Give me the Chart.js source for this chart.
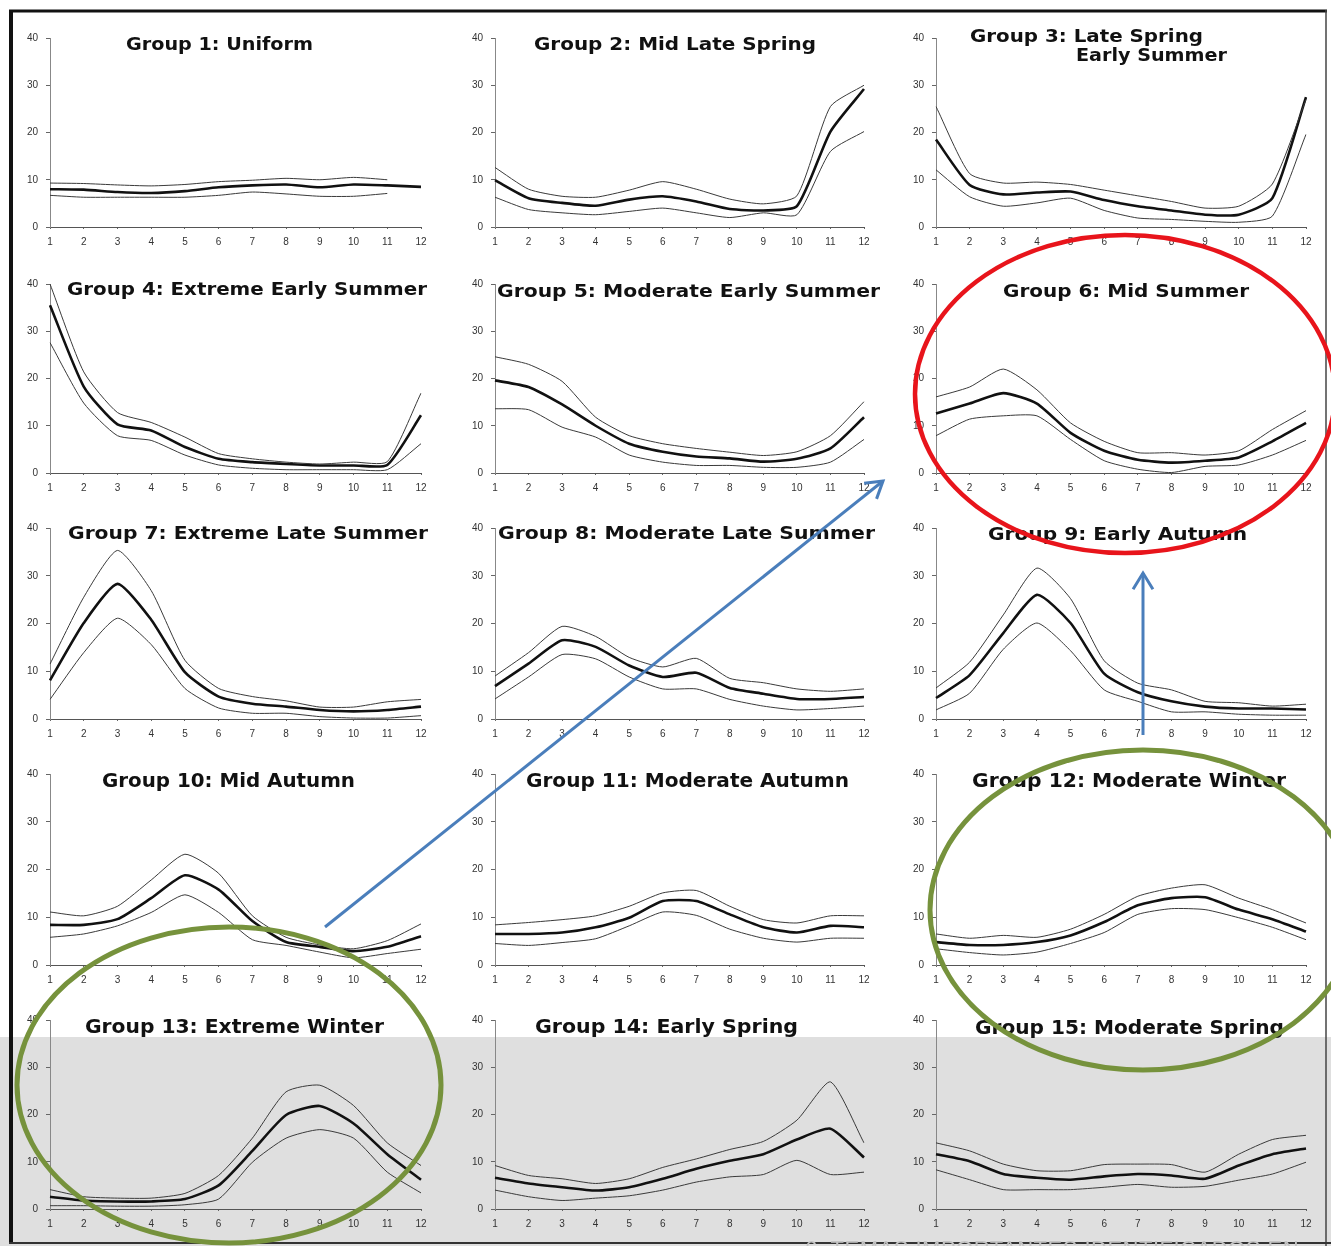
<!DOCTYPE html>
<html>
<head>
<meta charset="utf-8">
<script src="https://cdn.jsdelivr.net/npm/chart.js@4.4.1/dist/chart.umd.min.js"></script>
<style>
html, body { margin: 0; padding: 0; background: #fff; }
#page { position: relative; width: 1331px; height: 1246px; overflow: hidden; background: #fff; }
#band { position: absolute; left: 0; top: 1037px; width: 1331px; height: 209px; background: #dfdfdf; }
canvas.panel { position: absolute; }
#overlay { position: absolute; left: 0; top: 0; }
</style>
</head>
<body>
<div id="page">
  <div id="band"></div>
  <svg id="overlay" width="1331" height="1246" xmlns="http://www.w3.org/2000/svg"></svg>
</div>
<script>
const months = ['1', '2', '3', '4', '5', '6', '7', '8', '9', '10', '11', '12'];
const yTicks = [0, 10, 20, 30, 40];

const titles = [
    ['Group 1: Uniform'],
    ['Group 2: Mid Late Spring'],
    ['Group 3: Late Spring', 'Early Summer'],
    ['Group 4: Extreme Early Summer'],
    ['Group 5: Moderate Early Summer'],
    ['Group 6: Mid Summer'],
    ['Group 7: Extreme Late Summer'],
    ['Group 8: Moderate Late Summer'],
    ['Group 9: Early Autumn'],
    ['Group 10: Mid Autumn'],
    ['Group 11: Moderate Autumn'],
    ['Group 12: Moderate Winter'],
    ['Group 13: Extreme Winter'],
    ['Group 14: Early Spring'],
    ['Group 15: Moderate Spring']
];

// mean line and the two thin band lines, per group (% of cases per month)
const g1Mean = [8.0, 7.9, 7.4, 7.2, 7.6, 8.4, 8.8, 9.0, 8.4, 9.0, 8.8, 8.5];
const g1Hi = [9.3, 9.2, 8.9, 8.7, 9.0, 9.6, 9.9, 10.3, 10.0, 10.5, 10.0, null];
const g1Lo = [6.7, 6.3, 6.3, 6.3, 6.3, 6.7, 7.4, 7.0, 6.5, 6.5, 7.1, null];

const g2Mean = [9.9, 6.1, 5.1, 4.5, 5.8, 6.5, 5.4, 3.8, 3.5, 4.4, 20.2, 29.2];
const g2Hi = [12.6, 8.0, 6.5, 6.3, 7.8, 9.6, 8.0, 5.9, 4.9, 6.6, 25.5, 30.0];
const g2Lo = [6.3, 3.7, 3.0, 2.6, 3.3, 4.0, 3.0, 2.0, 3.0, 2.6, 16.0, 20.2];

const g3Mean = [18.5, 8.9, 6.9, 7.3, 7.5, 5.7, 4.4, 3.5, 2.6, 2.6, 6.1, 27.5];
const g3Hi = [25.5, 11.3, 9.3, 9.5, 9.0, 7.8, 6.6, 5.4, 4.0, 4.4, 9.1, 27.0];
const g3Lo = [12.1, 6.4, 4.4, 5.1, 6.1, 3.5, 1.9, 1.6, 1.2, 1.0, 2.3, 19.6];

const g4Mean = [35.5, 18.3, 10.3, 9.0, 5.5, 3.0, 2.3, 1.9, 1.6, 1.6, 1.7, 12.2];
const g4Hi = [40.0, 21.4, 12.8, 10.7, 7.6, 4.1, 3.0, 2.3, 1.9, 2.3, 2.4, 16.9];
const g4Lo = [27.6, 14.8, 7.9, 6.9, 3.8, 1.7, 1.0, 0.7, 0.7, 0.7, 0.7, 6.2];

const g5Mean = [19.6, 18.2, 14.5, 10.0, 6.2, 4.5, 3.5, 3.1, 2.4, 3.0, 5.2, 11.8];
const g5Hi = [24.6, 23.0, 19.4, 11.8, 7.9, 6.2, 5.2, 4.4, 3.7, 4.5, 7.9, 15.1];
const g5Lo = [13.6, 13.4, 9.7, 7.6, 3.8, 2.3, 1.6, 1.6, 1.2, 1.2, 2.3, 7.1];

const g6Mean = [12.6, 14.7, 16.9, 14.7, 8.5, 4.7, 2.8, 2.2, 2.6, 3.3, 6.7, 10.6];
const g6Hi = [16.1, 18.2, 22.0, 17.6, 10.6, 6.7, 4.3, 4.3, 3.8, 4.7, 9.2, 13.2];
const g6Lo = [7.9, 11.4, 12.1, 12.1, 7.1, 2.6, 0.8, 0.1, 1.4, 1.7, 3.8, 6.9];

const g7Mean = [8.1, 20.1, 28.3, 20.8, 9.8, 4.7, 3.2, 2.6, 1.9, 1.6, 1.9, 2.6];
const g7Hi = [11.5, 25.5, 35.3, 26.9, 12.3, 6.4, 4.7, 3.8, 2.5, 2.5, 3.6, 4.1];
const g7Lo = [4.1, 13.9, 21.1, 15.6, 6.4, 2.3, 1.2, 1.2, 0.5, 0.2, 0.2, 0.7];

const g8Mean = [6.9, 11.6, 16.5, 15.1, 11.2, 8.8, 9.7, 6.5, 5.3, 4.2, 4.2, 4.6];
const g8Hi = [9.0, 13.9, 19.4, 17.3, 12.9, 10.9, 12.7, 8.5, 7.6, 6.3, 5.8, 6.3];
const g8Lo = [4.2, 8.8, 13.5, 12.6, 8.8, 6.3, 6.3, 4.1, 2.7, 1.9, 2.2, 2.7];

const g9Mean = [4.4, 9.2, 18.0, 26.0, 20.1, 9.5, 5.6, 3.7, 2.6, 2.2, 2.2, 2.0];
const g9Hi = [6.5, 11.9, 21.8, 31.6, 25.2, 12.2, 7.5, 6.1, 3.7, 3.4, 2.7, 3.1];
const g9Lo = [1.9, 5.4, 14.6, 20.1, 14.3, 6.1, 3.7, 1.5, 1.5, 1.0, 0.8, 0.8];

const g10Mean = [8.4, 8.4, 9.6, 14.0, 18.8, 15.8, 9.2, 4.8, 3.8, 2.9, 3.8, 6.0];
const g10Hi = [11.1, 10.3, 12.3, 17.8, 23.2, 19.2, 10.3, 5.8, 4.2, 3.4, 5.1, 8.6];
const g10Lo = [5.8, 6.5, 8.2, 11.0, 14.7, 11.0, 5.3, 4.1, 2.7, 1.5, 2.4, 3.3];

const g11Mean = [6.5, 6.5, 6.8, 7.9, 9.9, 13.4, 13.4, 10.6, 7.9, 6.8, 8.2, 7.9];
const g11Hi = [8.4, 8.9, 9.5, 10.3, 12.3, 15.1, 15.6, 12.3, 9.5, 8.8, 10.3, 10.3];
const g11Lo = [4.5, 4.1, 4.7, 5.5, 8.2, 11.1, 10.4, 7.5, 5.6, 4.8, 5.6, 5.6];

const g12Mean = [4.8, 4.2, 4.2, 4.8, 6.2, 9.0, 12.5, 14.0, 14.2, 11.6, 9.6, 7.0];
const g12Hi = [6.5, 5.6, 6.2, 5.8, 7.5, 10.6, 14.4, 16.1, 16.8, 14.0, 11.6, 8.8];
const g12Lo = [3.4, 2.6, 2.1, 2.7, 4.5, 6.8, 10.6, 11.8, 11.6, 9.9, 7.9, 5.3];

const g13Mean = [2.6, 1.8, 1.6, 1.6, 2.1, 5.0, 12.3, 19.9, 21.8, 18.1, 11.6, 6.2];
const g13Hi = [4.1, 2.6, 2.3, 2.3, 3.3, 7.1, 15.0, 24.8, 26.2, 21.9, 14.0, 9.2];
const g13Lo = [0.7, 0.7, 0.6, 0.6, 0.9, 2.1, 9.9, 15.0, 16.8, 15.0, 7.8, 3.4];

const g14Mean = [6.6, 5.4, 4.6, 3.9, 4.6, 6.4, 8.5, 10.2, 11.6, 14.7, 17.0, 10.9];
const g14Hi = [9.2, 7.1, 6.4, 5.4, 6.4, 8.8, 10.6, 12.6, 14.3, 18.8, 26.9, 14.0];
const g14Lo = [4.0, 2.6, 1.8, 2.3, 2.8, 4.0, 5.7, 6.8, 7.3, 10.3, 7.3, 7.8];

const g15Mean = [11.6, 10.1, 7.4, 6.6, 6.2, 6.9, 7.4, 7.1, 6.4, 9.2, 11.6, 12.8];
const g15Hi = [14.0, 12.3, 9.5, 8.1, 8.1, 9.4, 9.5, 9.4, 7.8, 11.6, 14.7, 15.6];
const g15Lo = [8.3, 6.2, 4.1, 4.1, 4.1, 4.6, 5.2, 4.6, 4.8, 6.1, 7.4, 9.9];

const means = [g1Mean, g2Mean, g3Mean, g4Mean, g5Mean, g6Mean, g7Mean, g8Mean, g9Mean, g10Mean, g11Mean, g12Mean, g13Mean, g14Mean, g15Mean];
const highs = [g1Hi, g2Hi, g3Hi, g4Hi, g5Hi, g6Hi, g7Hi, g8Hi, g9Hi, g10Hi, g11Hi, g12Hi, g13Hi, g14Hi, g15Hi];
const lows = [g1Lo, g2Lo, g3Lo, g4Lo, g5Lo, g6Lo, g7Lo, g8Lo, g9Lo, g10Lo, g11Lo, g12Lo, g13Lo, g14Lo, g15Lo];

// page layout (pixels): month 1 / month 12 per column, value 40 / value 0 per row
const cols = [[50, 421], [495, 864], [936, 1306]];
const rows = [[34, 227], [280, 473], [524, 719], [770, 965], [1016, 1209]];
// title: left x, baseline, width
const titleSpots = [
    [[126, 50, 187]], [[534, 50, 282]], [[970, 42, 233], [1076, 61, 151]],
    [[67, 295, 360]], [[497, 297, 383]], [[1003, 297, 246]],
    [[68, 539, 360]], [[498, 539, 377]], [[988, 540, 259]],
    [[102, 787, 253]], [[526, 787, 323]], [[972, 787, 314]],
    [[85, 1033, 299]], [[535, 1033, 263]], [[975, 1034, 309]]
];

const YW = 45, PT = 10, PR = 14, XH = 26;
const page = document.getElementById('page');
const svg = document.getElementById('overlay');
const NS = 'http://www.w3.org/2000/svg';

function svgEl(tag, attrs, text) {
    const el = document.createElementNS(NS, tag);
    for (const k in attrs) el.setAttribute(k, attrs[k]);
    if (text) el.textContent = text;
    svg.appendChild(el);
    return el;
}

function drawPanel(i) {
    const [x0, x1] = cols[i % 3];
    const [top, bottom] = rows[Math.floor(i / 3)];
    const canvas = document.createElement('canvas');
    canvas.className = 'panel';
    canvas.width = x1 - x0 + YW + PR;
    canvas.height = bottom - top + PT + XH;
    canvas.style.left = (x0 - YW) + 'px';
    canvas.style.top = (top - PT) + 'px';
    page.insertBefore(canvas, svg);

    const thin = { borderColor: '#3a3a3a', borderWidth: 1, pointRadius: 0, tension: 0.2, fill: false };
    new Chart(canvas.getContext('2d'), {
        type: 'line',
        data: {
            labels: months,
            datasets: [
                Object.assign({ data: highs[i] }, thin),
                { data: means[i], borderColor: '#111', borderWidth: 2.6, pointRadius: 0, tension: 0.2, fill: false },
                Object.assign({ data: lows[i] }, thin)
            ]
        },
        options: {
            responsive: false,
            animation: false,
            devicePixelRatio: 1,
            layout: { padding: { top: PT, right: PR, left: 0, bottom: 0 } },
            plugins: { legend: { display: false }, tooltip: { enabled: false } },
            scales: {
                x: {
                    offset: false,
                    grid: { display: true, drawOnChartArea: false, drawTicks: true, tickLength: 2, color: '#666' },
                    border: { display: true, dash: [4, 3], color: '#555', width: 1 },
                    ticks: { padding: 7, maxRotation: 0, autoSkip: false, color: '#333', font: { family: 'Liberation Sans', size: 10 } },
                    afterFit: s => { s.height = XH; }
                },
                y: {
                    min: 0,
                    max: 40,
                    afterBuildTicks: s => { s.ticks = yTicks.map(v => ({ value: v })); },
                    grid: { display: true, drawOnChartArea: false, drawTicks: true, tickLength: 4, color: '#666' },
                    border: { display: true, dash: [2, 3], color: '#888', width: 1 },
                    ticks: { padding: 8, color: '#333', font: { family: 'Liberation Sans', size: 10 } },
                    afterFit: s => { s.width = YW; }
                }
            }
        }
    });

    // rows 4 and 5 were typeset in a narrower face
    const narrow = i >= 9;
    titles[i].forEach((line, k) => {
        const [tx, ty, tw] = titleSpots[i][k];
        svgEl('text', {
            x: tx, y: ty, textLength: tw, lengthAdjust: 'spacingAndGlyphs',
            'font-family': narrow ? 'DejaVu Sans Condensed, Liberation Sans Narrow, sans-serif' : 'DejaVu Sans, Liberation Sans, sans-serif',
            'font-weight': 'bold', 'font-size': narrow ? 19 : 18, fill: '#111'
        }, line);
    });
}

function arrow(xa, ya, xb, yb) {
    const col = '#4a7ebb';
    svgEl('line', { x1: xa, y1: ya, x2: xb, y2: yb, stroke: col, 'stroke-width': 3 });
    const ang = Math.atan2(yb - ya, xb - xa);
    const L = 19, spread = 0.55;
    const p1 = [xb - L * Math.cos(ang - spread), yb - L * Math.sin(ang - spread)];
    const p2 = [xb - L * Math.cos(ang + spread), yb - L * Math.sin(ang + spread)];
    svgEl('polyline', {
        points: `${p1[0]},${p1[1]} ${xb},${yb} ${p2[0]},${p2[1]}`,
        fill: 'none', stroke: col, 'stroke-width': 3, 'stroke-linejoin': 'miter'
    });
}

function decorate() {
    // scanned page frame
    svgEl('line', { x1: 11, y1: 12, x2: 11, y2: 1243, stroke: '#111', 'stroke-width': 4 });
    svgEl('line', { x1: 9, y1: 11, x2: 1327, y2: 11, stroke: '#111', 'stroke-width': 3 });
    svgEl('line', { x1: 1326, y1: 10, x2: 1326, y2: 1246, stroke: '#444', 'stroke-width': 1.5 });
    svgEl('line', { x1: 9, y1: 1243, x2: 1331, y2: 1243, stroke: '#333', 'stroke-width': 2 });
    svgEl('text', {
        x: 805, y: 1256, 'font-family': 'Liberation Sans, Arial, sans-serif', 'font-size': 22,
        fill: '#c4c4c4', 'letter-spacing': 0.5
    }, '6. TEMAS IMPORTANTES IDENTIFICADOS EN');

    // highlights
    svgEl('ellipse', { cx: 1125, cy: 394, rx: 210, ry: 159, fill: 'none', stroke: '#e8141b', 'stroke-width': 4.5 });
    svgEl('ellipse', { cx: 229, cy: 1085, rx: 212, ry: 158, fill: 'none', stroke: '#76923c', 'stroke-width': 5 });
    svgEl('ellipse', { cx: 1143, cy: 910, rx: 213, ry: 160, fill: 'none', stroke: '#76923c', 'stroke-width': 5 });
    arrow(325, 927, 883, 481);
    arrow(1143, 735, 1143, 573);
}

for (let i = 0; i < 15; i++) drawPanel(i);
decorate();
</script>
</body>
</html>
